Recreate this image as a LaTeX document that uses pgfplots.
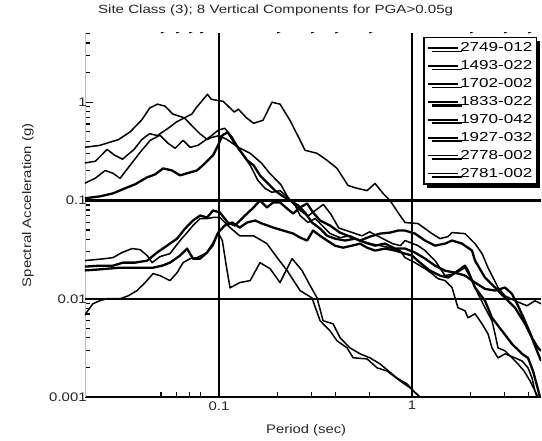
\documentclass[border=0pt]{standalone}
\usepackage{fontspec}
\setmainfont{Liberation Sans}
\usepackage{graphicx}
\usepackage{pgfplots}
\pgfplotsset{compat=1.18}
\usetikzlibrary{shadows}
\newcommand{\sx}[1]{\scalebox{1.2}[1]{#1}}
\newcommand{\lgd}[1]{\resizebox{72bp}{\height}{#1}}
\begin{document}
\fontsize{12.5}{15}\selectfont
\begin{tikzpicture}
\begin{axis}[
  at={(0,0)}, anchor=south west,
  scale only axis, width=456bp, height=364bp,
  xmode=log, ymode=log,
  xmin=0.0202, xmax=4.66, ymin=0.001, ymax=5.06,
  axis x line*=bottom, axis y line*=left,
  axis line style={-},
  x axis line style={black, line width=1.2bp},
  y axis line style={black!25, line width=0.8bp},
  xtick={0.1,1}, xticklabels={\sx{0.1},\sx{1}},
  minor xtick={0.05,0.06,0.07,0.08,0.2,0.3,0.4,0.6,2,3,4},
  ytick={0.001,0.01,0.1,1}, yticklabels={\sx{0.001},\sx{0.01},\sx{0.1},\sx{1}},
  minor ytick={0.002,0.003,0.004,0.005,0.006,0.007,0.008,0.009,0.02,0.03,0.04,0.05,0.06,0.07,0.08,0.09,0.2,0.3,0.4,0.5,0.6,0.7,0.8,0.9,2,3,4,5},
  tick align=inside,
  major tick length=8bp, minor tick length=5bp,
  tick style={black, line width=1.1bp},
  xmajorgrids=true,
  major grid style={black, line width=1.3bp},
  xticklabel style={font=\fontsize{12.5}{15}\selectfont, text=black!85},
  yticklabel style={font=\fontsize{12.5}{15}\selectfont, text=black!85, xshift=6bp},
  title={\resizebox{355bp}{\height}{Site Class (3); 8 Vertical Components for PGA>0.05g}},
  title style={at={(axis description cs:0.418,1.0385)}, anchor=base, font=\fontsize{12}{15}\selectfont, text=black!85},
  xlabel={\resizebox{80bp}{\height}{Period (sec)}},
  xlabel style={at={(axis description cs:0.485,-0.1016)}, anchor=base, font=\fontsize{12.5}{15}\selectfont, text=black!85},
  ylabel={\resizebox{164bp}{\height}{Spectral Acceleration (g)}},
  ylabel style={at={(axis description cs:-0.125,0.527)}, anchor=center, font=\fontsize{12.5}{15}\selectfont, text=black!85},
  every axis plot/.append style={mark=none, line join=round, black},
  legend cell align=left,
  legend image code/.code={\draw[#1] (0bp,0bp) -- (30bp,0bp);},
  legend style={at={(axis description cs:1,1)}, anchor=north east, xshift=-4bp, yshift=-4bp,
    draw=black, line width=1.5bp, fill=white,
    font=\fontsize{13}{15}\selectfont,
    inner xsep=3bp, inner ysep=3bp, row sep=3bp,
    nodes={inner xsep=1bp, inner ysep=2bp},
    drop shadow={shadow xshift=3.5bp, shadow yshift=-3.5bp, opacity=1, fill=black}},
]
% 2749-012
\addplot[line width=1.5bp] coordinates {(0.02,0.240)(0.0229,0.251)(0.0263,0.331)(0.0288,0.288)(0.0316,0.263)(0.0363,0.331)(0.0398,0.417)(0.0437,0.479)(0.0479,0.457)(0.0550,0.550)(0.0603,0.631)(0.0661,0.692)(0.0724,0.759)(0.0759,0.871)(0.0871,1.202)(0.0912,1.07)(0.105,1.02)(0.120,0.794)(0.126,0.849)(0.138,0.70)(0.151,0.61)(0.169,0.655)(0.188,1.0)(0.207,0.955)(0.233,0.655)(0.263,0.41)(0.279,0.324)(0.322,0.302)(0.363,0.256)(0.409,0.212)(0.466,0.142)(0.519,0.133)(0.585,0.126)(0.643,0.149)(0.708,0.118)(0.769,0.100)(0.846,0.0754)(0.920,0.0596)(1.074,0.0582)(1.269,0.0460)(1.397,0.0409)(1.537,0.0429)(1.612,0.0471)(1.882,0.0460)(2.121,0.0364)(2.306,0.0288)(2.476,0.0207)(2.790,0.0130)(3.033,0.0107)(3.417,0.00954)(3.943,0.00848)(4.339,0.00954)(4.66,0.00889)};
\addlegendentry{\lgd{2749-012}}
% 1493-022
\addplot[line width=1.5bp] coordinates {(0.02,0.347)(0.0240,0.363)(0.0302,0.417)(0.0347,0.501)(0.0398,0.661)(0.0437,0.871)(0.0479,0.955)(0.0525,0.912)(0.0575,0.759)(0.0661,0.692)(0.0724,0.575)(0.0794,0.479)(0.0871,0.417)(0.0912,0.437)(0.1,0.457)(0.110,0.417)(0.126,0.347)(0.145,0.302)(0.166,0.240)(0.182,0.191)(0.209,0.145)(0.229,0.105)(0.263,0.0794)(0.288,0.0692)(0.316,0.0794)(0.347,0.0912)(0.380,0.0724)(0.417,0.0525)(0.479,0.0479)(0.550,0.0437)(0.603,0.0479)(0.692,0.0417)(0.794,0.0363)(0.871,0.0347)(0.920,0.0391)(1.074,0.0347)(1.168,0.0309)(1.316,0.0244)(1.483,0.0172)(1.671,0.0180)(1.882,0.0207)(2.046,0.0153)(2.198,0.0112)(2.389,0.00810)(2.597,0.00596)(2.693,0.00439)(2.790,0.00316)(3.033,0.00295)(3.297,0.0025)(3.542,0.00217)(3.805,0.00184)(4.088,0.00146)(4.339,0.00115)(4.497,0.001)};
\addlegendentry{\lgd{1493-022}}
% 1702-002
\addplot[line width=1.5bp] coordinates {(0.02,0.149)(0.0228,0.168)(0.0257,0.202)(0.0282,0.189)(0.0307,0.168)(0.0346,0.228)(0.0390,0.309)(0.0440,0.409)(0.0494,0.461)(0.0544,0.382)(0.0592,0.340)(0.0651,0.409)(0.0708,0.347)(0.0778,0.364)(0.0846,0.409)(0.0920,0.461)(0.0989,0.518)(0.107,0.543)(0.117,0.440)(0.128,0.324)(0.145,0.228)(0.159,0.160)(0.173,0.133)(0.188,0.121)(0.207,0.126)(0.228,0.107)(0.248,0.0889)(0.263,0.0703)(0.289,0.0597)(0.315,0.0655)(0.342,0.0556)(0.376,0.0461)(0.423,0.0419)(0.477,0.0437)(0.538,0.0391)(0.606,0.0364)(0.683,0.0347)(0.769,0.0331)(0.867,0.0309)(0.920,0.0262)(1.036,0.0233)(1.168,0.0202)(1.269,0.0180)(1.364,0.0160)(1.483,0.0153)(1.612,0.0130)(1.671,0.0102)(1.731,0.00810)(1.882,0.00754)(1.951,0.00640)(2.121,0.00703)(2.306,0.00556)(2.476,0.00439)(2.597,0.00316)(2.790,0.00250)(3.033,0.00275)(3.417,0.00250)(3.715,0.00233)(3.991,0.00198)(4.187,0.00156)(4.339,0.00115)(4.444,0.001)};
\addlegendentry{\lgd{1702-002}}
% 1833-022
\addplot[line width=2.3bp] coordinates {(0.02,0.0212)(0.0241,0.0217)(0.0282,0.0217)(0.0318,0.0233)(0.0367,0.0233)(0.0424,0.0244)(0.0477,0.0295)(0.0538,0.0347)(0.0606,0.0409)(0.0667,0.0518)(0.0733,0.0625)(0.0798,0.0703)(0.0867,0.0671)(0.0931,0.0791)(0.101,0.0755)(0.111,0.0597)(0.121,0.0556)(0.133,0.0671)(0.151,0.0849)(0.163,0.100)(0.177,0.0849)(0.191,0.0955)(0.207,0.0955)(0.225,0.0829)(0.242,0.0737)(0.263,0.0849)(0.286,0.0931)(0.307,0.0755)(0.334,0.0625)(0.376,0.0556)(0.423,0.0471)(0.477,0.0429)(0.538,0.0391)(0.606,0.0429)(0.683,0.0460)(0.769,0.0471)(0.846,0.0494)(0.920,0.0494)(1.036,0.0460)(1.168,0.0391)(1.316,0.0347)(1.483,0.0364)(1.612,0.0391)(1.816,0.0364)(2.046,0.0309)(2.121,0.0244)(2.389,0.0164)(2.693,0.0130)(3.033,0.0102)(3.417,0.00810)(3.851,0.00556)(4.187,0.00400)(4.497,0.00316)(4.66,0.00295)};
\addlegendentry{\lgd{1833-022}}
% 1970-042
\addplot[line width=2.3bp] coordinates {(0.02,0.105)(0.0241,0.110)(0.0282,0.118)(0.0326,0.133)(0.0367,0.146)(0.0424,0.172)(0.0466,0.184)(0.0513,0.212)(0.0571,0.202)(0.0628,0.180)(0.0708,0.193)(0.0769,0.202)(0.0846,0.239)(0.0931,0.288)(0.0989,0.364)(0.104,0.461)(0.111,0.494)(0.118,0.409)(0.128,0.324)(0.140,0.256)(0.151,0.228)(0.163,0.180)(0.179,0.149)(0.195,0.126)(0.212,0.112)(0.233,0.100)(0.257,0.0889)(0.279,0.0755)(0.303,0.0597)(0.334,0.0518)(0.363,0.0437)(0.399,0.0409)(0.450,0.0391)(0.507,0.0409)(0.571,0.0373)(0.643,0.0347)(0.725,0.0364)(0.817,0.0324)(0.920,0.0324)(1.036,0.0295)(1.168,0.0256)(1.316,0.0217)(1.483,0.0193)(1.671,0.0184)(1.882,0.0172)(2.121,0.0146)(2.389,0.0126)(2.693,0.0121)(3.033,0.0130)(3.297,0.0112)(3.542,0.00848)(3.805,0.00625)(4.088,0.00450)(4.339,0.00331)(4.66,0.00233)};
\addlegendentry{\lgd{1970-042}}
% 1927-032
\addplot[line width=2.3bp] coordinates {(0.02,0.0194)(0.0233,0.0198)(0.0263,0.0202)(0.0307,0.0207)(0.0376,0.0207)(0.0455,0.0207)(0.0507,0.0217)(0.0557,0.0233)(0.0628,0.0275)(0.0683,0.0324)(0.0733,0.0256)(0.0798,0.0256)(0.0867,0.0295)(0.0931,0.0364)(0.0989,0.0471)(0.107,0.0556)(0.117,0.0597)(0.128,0.0530)(0.140,0.0597)(0.154,0.0625)(0.167,0.0582)(0.191,0.0530)(0.215,0.0494)(0.242,0.0461)(0.263,0.0419)(0.286,0.0391)(0.307,0.0494)(0.334,0.0437)(0.363,0.0391)(0.399,0.0347)(0.439,0.0331)(0.489,0.0347)(0.538,0.0364)(0.585,0.0331)(0.643,0.0309)(0.725,0.0324)(0.817,0.0309)(0.920,0.0288)(1.0,0.0275)(1.100,0.0233)(1.240,0.0193)(1.397,0.0172)(1.537,0.0164)(1.731,0.0193)(1.882,0.0217)(1.951,0.0193)(2.121,0.0130)(2.389,0.00954)(2.597,0.00640)(2.927,0.00471)(3.297,0.00347)(3.715,0.00275)(3.991,0.00250)(4.237,0.00184)(4.444,0.00130)(4.605,0.001)};
\addlegendentry{\lgd{1927-032}}
% 2778-002
\addplot[line width=1.5bp] coordinates {(0.02,0.0244)(0.0228,0.0250)(0.0257,0.0256)(0.0282,0.0262)(0.0314,0.0295)(0.0354,0.0324)(0.0390,0.0316)(0.0424,0.0275)(0.0450,0.0233)(0.0494,0.0268)(0.0557,0.0288)(0.0628,0.0391)(0.0683,0.0471)(0.0733,0.0556)(0.0798,0.0655)(0.0867,0.0655)(0.0931,0.0671)(0.101,0.0671)(0.114,0.0530)(0.128,0.0437)(0.151,0.0437)(0.177,0.0364)(0.200,0.0262)(0.225,0.0194)(0.263,0.0121)(0.303,0.0102)(0.334,0.00597)(0.376,0.00471)(0.409,0.00373)(0.461,0.00316)(0.495,0.00251)(0.585,0.00244)(0.659,0.00198)(0.742,0.00184)(0.867,0.00146)(0.977,0.00124)(1.06,0.00107)(1.10,0.001)};
\addlegendentry{\lgd{2778-002}}
% 2781-002
\addplot[line width=1.5bp] coordinates {(0.02,0.00671)(0.0222,0.00889)(0.0241,0.00955)(0.0263,0.0100)(0.0307,0.0100)(0.0338,0.0107)(0.0376,0.0121)(0.0414,0.0146)(0.0455,0.0180)(0.0494,0.0172)(0.0557,0.0153)(0.0606,0.0184)(0.0651,0.0233)(0.0708,0.0256)(0.0769,0.0262)(0.0867,0.0295)(0.0931,0.0347)(0.0989,0.0471)(0.104,0.0391)(0.109,0.0217)(0.114,0.0129)(0.128,0.0146)(0.145,0.0153)(0.163,0.0233)(0.184,0.0202)(0.207,0.0146)(0.239,0.0256)(0.269,0.0194)(0.296,0.0137)(0.322,0.0102)(0.346,0.00597)(0.390,0.00556)(0.424,0.0040)(0.477,0.00316)(0.538,0.00275)(0.606,0.0025)(0.683,0.00217)(0.836,0.00156)(0.942,0.00136)(1.04,0.0011)(1.10,0.001)};
\addlegendentry{\lgd{2781-002}}
% grid lines at 0.1 and 0.01
\draw[black, line width=2.8bp] (axis cs:0.0202,0.1) -- (axis cs:4.66,0.1);
\draw[black, line width=1.6bp] (axis cs:0.0202,0.01) -- (axis cs:4.66,0.01);
% ticks along the top edge
\draw[black, line width=1.1bp] (axis cs:0.05,5.06) -- ++(0,-6bp);
\draw[black, line width=1.1bp] (axis cs:0.06,5.06) -- ++(0,-6bp);
\draw[black, line width=1.1bp] (axis cs:0.07,5.06) -- ++(0,-6bp);
\draw[black, line width=1.1bp] (axis cs:0.08,5.06) -- ++(0,-6bp);
\draw[black, line width=1.1bp] (axis cs:0.2,5.06) -- ++(0,-6bp);
\draw[black, line width=1.1bp] (axis cs:0.3,5.06) -- ++(0,-6bp);
\draw[black, line width=1.1bp] (axis cs:0.4,5.06) -- ++(0,-6bp);
\draw[black, line width=1.1bp] (axis cs:0.6,5.06) -- ++(0,-6bp);
\draw[black, line width=1.1bp] (axis cs:2,5.06) -- ++(0,-6bp);
\draw[black, line width=1.1bp] (axis cs:3,5.06) -- ++(0,-6bp);
\draw[black, line width=1.1bp] (axis cs:4,5.06) -- ++(0,-6bp);
\end{axis}
\pgfresetboundingbox
\useasboundingbox (-85bp,-44bp) rectangle (457bp,397bp);
\end{tikzpicture}
\end{document}
